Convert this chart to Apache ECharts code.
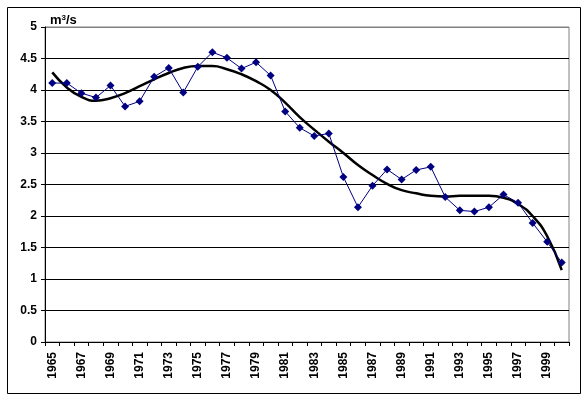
<!DOCTYPE html>
<html>
<head>
<meta charset="utf-8">
<script src="https://cdn.jsdelivr.net/npm/echarts@6/dist/echarts.min.js"></script>
<style>
html,body{margin:0;padding:0;background:#fff;}
#c{width:585px;height:396px;}
</style>
</head>
<body>
<div id="c"></div>
<script>
const years = [];
for (let y = 1965; y <= 2000; y++) years.push(String(y));
const flow = [4.11, 4.11, 3.95, 3.88, 4.07, 3.74, 3.82, 4.21, 4.35, 3.96, 4.37, 4.60, 4.51, 4.34, 4.44, 4.23,
  3.66, 3.40, 3.27, 3.31, 2.62, 2.14, 2.48, 2.74, 2.58, 2.73, 2.78, 2.30, 2.09, 2.07, 2.14, 2.34, 2.21, 1.89, 1.59, 1.26];
const trend = [4.28, 4.04, 3.89, 3.83, 3.87, 3.95, 4.06, 4.17, 4.27, 4.35, 4.38, 4.38, 4.33, 4.25, 4.14, 4.00,
  3.80, 3.57, 3.37, 3.18, 3.00, 2.81, 2.65, 2.51, 2.41, 2.36, 2.32, 2.31, 2.32, 2.32, 2.32, 2.29, 2.19, 2.00, 1.68, 1.14];

const chart = echarts.init(document.getElementById('c'));
const font = {fontFamily: '"Liberation Sans", Arial, sans-serif', fontWeight: 'bold', fontSize: 12, color: '#000'};
const splitColors = ['#000','#000','#000','#000','#000','#000','#000','#000','#000','#000','#808080'];
chart.setOption({
  animation: false,
  backgroundColor: '#fff',
  graphic: [{
    type: 'rect', left: 5, top: 5, z: 100,
    shape: {width: 573, height: 386},
    style: {fill: 'none', stroke: '#000', lineWidth: 1}
  }],
  title: {
    text: 'm{sup|3}/s', left: 45, top: 9,
    textStyle: Object.assign({}, font, {fontSize: 13, rich: {sup: Object.assign({}, font, {fontSize: 8, verticalAlign: 'top', lineHeight: 10})}})
  },
  grid: {left: 45, right: 16, top: 27, bottom: 54, show: true, borderColor: '#808080', borderWidth: 1},
  xAxis: {
    type: 'category', data: years, boundaryGap: true,
    axisLine: {lineStyle: {color: '#000', width: 1}},
    axisTick: {show: true, interval: 0, length: 4, lineStyle: {color: '#000'}},
    axisLabel: Object.assign({}, font, {interval: 1, rotate: 90, margin: 10}),
    splitLine: {show: false}
  },
  yAxis: {
    type: 'value', min: 0, max: 5, interval: 0.5,
    axisLine: {show: true, lineStyle: {color: '#000', width: 1}},
    axisTick: {show: true, length: 4, lineStyle: {color: '#000'}},
    axisLabel: Object.assign({}, font, {margin: 8}),
    splitLine: {show: true, lineStyle: {color: splitColors, width: 1}}
  },
  series: [
    {type: 'line', data: trend, smooth: true, symbol: 'none', lineStyle: {color: '#000', width: 2.5}, z: 2},
    {type: 'line', data: flow, symbol: 'diamond', symbolSize: 8,
      itemStyle: {color: '#000080'}, lineStyle: {color: '#000080', width: 1}, z: 3}
  ]
});
</script>
</body>
</html>
